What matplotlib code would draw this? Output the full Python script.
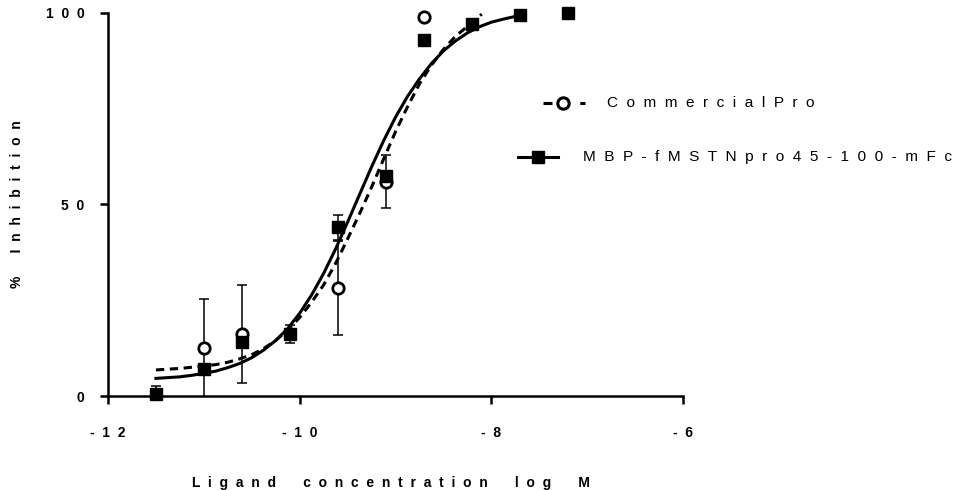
import matplotlib
matplotlib.use("Agg")
import matplotlib.pyplot as plt
from matplotlib.lines import Line2D

# data
# MBP-fMSTNpro45-100-mFc (filled squares)
mbp_x = [-11.5, -11.0, -10.6, -10.1, -9.6, -9.1, -8.7, -8.2, -7.7, -7.2]
mbp_y = [0.5, 7.0, 14.0, 16.2, 44.0, 57.5, 93.0, 97.0, 99.5, 100.0]
mbp_err = [2.0, 0, 0, 2.4, 3.2, 0, 0, 0, 0, 0]

# Commercial Pro (open circles)
com_x = [-11.0, -10.6, -9.6, -9.1, -8.7]
com_y = [12.6, 16.2, 28.3, 56.0, 99.0]
com_err = [12.8, 12.9, 12.3, 7.0, 0]

# fitted curves
fit_mbp_x = [-11.5, -11.375, -11.25, -11.125, -11.0, -10.875, -10.75, -10.625,
             -10.5, -10.375, -10.25, -10.125, -10.0, -9.875, -9.75, -9.625,
             -9.5, -9.375, -9.25, -9.125, -9.0, -8.875, -8.75, -8.625,
             -8.5, -8.375, -8.25, -8.125, -8.0, -7.875, -7.75, -7.7]
fit_mbp_y = [4.6, 4.8, 5.0, 5.4, 5.9, 6.5, 7.4, 8.5,
             10.0, 12.0, 14.5, 17.6, 21.6, 26.4, 32.0, 38.4,
             45.4, 52.6, 59.8, 66.6, 72.8, 78.2, 82.8, 86.8,
             90.1, 92.7, 94.8, 96.4, 97.6, 98.4, 99.1, 99.4]
fit_com_x = [-11.5, -11.375, -11.25, -11.125, -11.0, -10.875, -10.75, -10.625,
             -10.5, -10.375, -10.25, -10.125, -10.0, -9.875, -9.75, -9.625,
             -9.5, -9.375, -9.25, -9.125, -9.0, -8.875, -8.75, -8.625,
             -8.5, -8.375, -8.25, -8.1]
fit_com_y = [6.8, 7.0, 7.2, 7.5, 7.8, 8.2, 8.8, 9.7,
             10.8, 12.4, 14.5, 17.2, 20.5, 24.5, 29.0, 34.6,
             41.0, 47.6, 54.5, 61.8, 69.0, 75.5, 81.5, 86.4,
             90.5, 93.9, 96.5, 99.7]

xticks = [-12, -10, -8, -6]
yticks = [0, 50, 100]
series_names = ["Commercial Pro", "MBP-fMSTNpro45-100-mFc"]
x_title = "Ligand concentration log M"
y_title = "% Inhibition"

plt.rcParams['font.family'] = ['Liberation Sans', 'DejaVu Sans']
plt.rcParams['lines.scale_dashes'] = False

W, H = 970, 490


def spaced(s, gap='  ', word_gap='       '):
    # GraphPad-style letter spacing
    return word_gap.join(gap.join(w) for w in s.split())


fig = plt.figure(figsize=(W / 100, H / 100), dpi=100)
ax = fig.add_axes([108 / W, 1 - 396 / H, 575 / W, 383 / H])

lw = 2.2
dash = (6, 4)

ax.plot(fit_com_x, fit_com_y, color='black', lw=lw, dashes=dash, zorder=2)
ax.plot(fit_mbp_x, fit_mbp_y, color='black', lw=lw, solid_joinstyle='round', zorder=2)


def err_pts(x, y, e):
    keep = [i for i in range(len(x)) if e[i] > 0]
    return [x[i] for i in keep], [y[i] for i in keep], [e[i] for i in keep]


ex, ey, ee = err_pts(com_x, com_y, com_err)
ax.errorbar(ex, ey, yerr=ee, fmt='none', ecolor='black', elinewidth=1.1,
            capsize=3.6, capthick=1.1, zorder=3)
ex, ey, ee = err_pts(mbp_x, mbp_y, mbp_err)
ax.errorbar(ex, ey, yerr=ee, fmt='none', ecolor='black', elinewidth=1.1,
            capsize=3.6, capthick=1.1, zorder=3)

ax.plot(com_x, com_y, 'o', ms=8.2, mfc='white', mec='black', mew=2.0,
        clip_on=False, zorder=4)
ax.plot(mbp_x, mbp_y, 's', ms=8.8, color='black', clip_on=False, zorder=5)

ax.set_xlim(-12, -6)
ax.set_ylim(0, 100)
ax.set_xticks(xticks)
ax.set_xticklabels([spaced(str(t)) for t in xticks])
ax.set_yticks(yticks)
ax.set_yticklabels([spaced(str(t)) for t in yticks])
for lab in ax.get_xticklabels() + ax.get_yticklabels():
    lab.set_fontweight('bold')
ax.tick_params(direction='out', length=5.8, width=1.8, labelsize=10, color='black')
ax.tick_params(axis='x', pad=16)
ax.tick_params(axis='y', pad=11)
for side in ['top', 'right']:
    ax.spines[side].set_visible(False)
for side in ['left', 'bottom']:
    ax.spines[side].set_linewidth(1.8)

fig.text(391 / W, 1 - 483 / H, spaced(x_title), ha='center', va='center',
         fontsize=10, fontweight='bold')
fig.text(17 / W, 1 - 204 / H, spaced(y_title, word_gap='      '), ha='center',
         va='center', rotation=90, fontsize=10, fontweight='bold')

# legend, drawn by hand in pixel positions
def fx(px):
    return px / W


def fy(py):
    return 1 - py / H


fig.add_artist(Line2D([fx(543), fx(585)], [fy(103)] * 2, color='black', lw=lw,
                      dashes=(6.5, 20), transform=fig.transFigure))
fig.add_artist(Line2D([fx(563)], [fy(103)], marker='o', ms=8.2, mfc='white',
                      mec='black', mew=2.2, transform=fig.transFigure))
fig.add_artist(Line2D([fx(518), fx(558)], [fy(157)] * 2, color='black', lw=lw,
                      transform=fig.transFigure))
fig.add_artist(Line2D([fx(538)], [fy(157)], marker='s', ms=8.8, color='black',
                      transform=fig.transFigure))
fig.text(fx(607), fy(103), spaced(series_names[0], word_gap='  '),
         va='center', ha='left', fontsize=11.1)
fig.text(fx(583), fy(157), spaced(series_names[1], word_gap='  '),
         va='center', ha='left', fontsize=11.1)

fig.savefig('out.png', dpi=100)
